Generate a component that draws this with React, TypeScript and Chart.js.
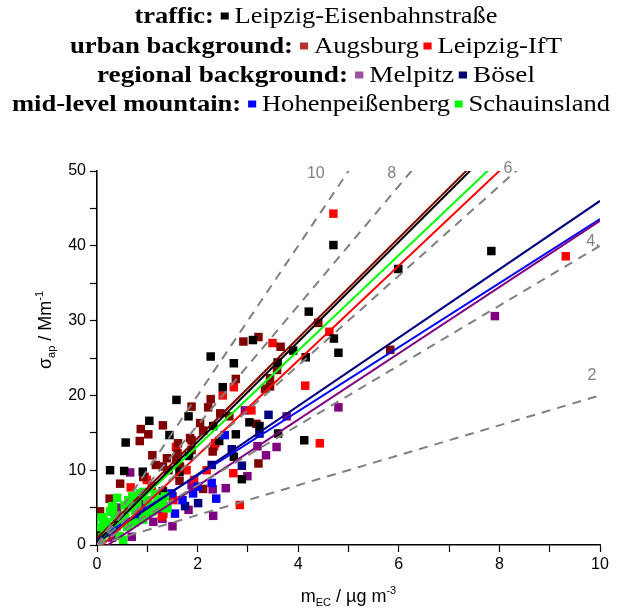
import { useEffect, useRef } from 'react';
import { Chart, registerables } from 'chart.js';

Chart.register(...registerables);

// ---------- data ----------
const SERIES_NAMES = ['Leipzig-Eisenbahnstraße', 'Augsburg', 'Leipzig-IfT', 'Melpitz', 'Bösel', 'Hohenpeißenberg', 'Schauinsland'];
const SERIES_COLORS = ['#000000', '#800000', '#ff0000', '#800080', '#000080', '#0000ff', '#00ff00'];
const LEGEND_COLORS = ['#000000', '#b03434', '#ff0000', '#a050a0', '#000070', '#0000ff', '#00ff00'];
const GROUP_LABELS = ['traffic:', 'urban background:', 'regional background:', 'mid-level mountain:'];
const GROUP_MEMBERS = [[0], [1, 2], [3, 4], [5, 6]];

const leipzigEisenbahnstrasse: [number, number][] = [
  [0.05, 1.5], [0.15, 3.0], [0.3, 4.5], [0.26, 10.0], [0.54, 9.9], [0.91, 9.8], [0.57, 13.7], [1.04, 16.6],
  [1.44, 14.7], [1.58, 19.4], [1.64, 9.8], [1.82, 17.2], [1.83, 11.9], [1.31, 7.2], [2.26, 25.2], [2.31, 15.9],
  [2.43, 13.9], [2.5, 21.1], [2.72, 24.3], [2.72, 11.8], [2.76, 14.8], [2.88, 8.8], [3.03, 16.4], [3.1, 27.4],
  [3.23, 15.9], [3.59, 24.4], [3.6, 14.9], [3.9, 26.0], [4.15, 25.1], [4.21, 31.2], [4.12, 14.0], [4.71, 27.6],
  [4.8, 25.7], [4.7, 40.1], [5.99, 36.9], [7.84, 39.3],
];
const augsburg: [number, number][] = [
  [0.06, 4.5], [0.25, 6.2], [0.46, 8.2], [0.85, 13.9], [0.87, 15.5], [1.02, 14.8], [0.92, 9.1], [1.17, 10.7],
  [1.31, 10.5], [1.31, 16.0], [1.39, 11.6], [1.42, 10.0], [1.58, 11.7], [1.61, 13.6], [1.6, 12.3], [1.64, 8.6],
  [1.65, 10.5], [1.85, 14.3], [1.88, 18.5], [1.88, 12.7], [1.88, 14.0], [2.05, 16.3], [2.11, 15.3], [2.11, 7.5],
  [2.21, 18.4], [2.26, 19.5], [2.45, 17.6], [2.63, 17.2], [2.76, 22.2], [2.91, 27.2], [3.17, 16.2], [3.21, 27.8],
  [3.21, 10.9], [3.34, 20.9], [3.44, 22.3], [3.44, 21.2], [3.58, 23.4], [3.65, 26.5], [4.4, 29.7], [5.83, 26.1],
  [1.1, 12.0], [2.3, 12.5],
];
const leipzigIfT: [number, number][] = [
  [0.2, 2.5], [0.4, 4.0], [0.5, 3.0], [0.67, 7.7], [0.76, 6.0], [0.95, 9.1], [0.99, 8.7], [1.09, 7.9],
  [1.29, 3.8], [1.32, 4.2], [1.52, 6.0], [1.57, 13.1], [1.58, 11.4], [1.78, 10.0], [1.93, 8.7], [2.18, 10.0],
  [2.33, 13.2], [2.35, 13.6], [2.5, 20.0], [2.71, 9.6], [2.72, 21.1], [2.84, 5.35], [3.07, 18.0], [3.49, 27.0],
  [4.14, 21.3], [4.43, 13.6], [4.62, 28.5], [4.7, 44.3], [9.32, 38.6],
];
const melpitz: [number, number][] = [
  [0.3, 1.0], [0.4, 5.0], [0.66, 9.7], [0.69, 1.1], [0.9, 5.5], [1.0, 4.0], [1.12, 3.1], [1.3, 3.5],
  [1.5, 2.5], [1.82, 4.7], [1.88, 8.0], [2.3, 7.45], [2.31, 3.9], [2.56, 7.6], [2.94, 18.0], [2.99, 9.2],
  [3.19, 13.2], [3.36, 12.0], [3.57, 13.1], [3.77, 17.2], [4.8, 18.4], [7.91, 30.6],
];
const boesel: [number, number][] = [
  [0.2, 2.0], [0.4, 3.5], [0.6, 2.5], [0.9, 4.0], [1.2, 5.0], [1.5, 6.5], [1.75, 5.2], [2.01, 5.6],
  [2.28, 10.7], [2.68, 12.8], [2.88, 10.6], [3.23, 14.9], [3.41, 17.4],
];
const hohenpeissenberg: [number, number][] = [
  [0.3, 2.0], [0.5, 3.0], [0.8, 3.5], [0.99, 5.1], [1.19, 4.9], [1.29, 5.8], [1.48, 6.9], [1.55, 4.2],
  [1.7, 6.0], [1.91, 6.9], [2.0, 7.8], [2.28, 8.3], [2.37, 6.2], [2.54, 14.7],
];
const schauinsland: [number, number][] = [
  [0.05, 0.5], [0.06, 2.4], [0.09, 3.7], [0.1, 1.0], [0.13, 3.3], [0.15, 1.5], [0.2, 3.0], [0.22, 2.0],
  [0.26, 4.5], [0.3, 5.2], [0.32, 4.9], [0.35, 3.8], [0.39, 2.4], [0.45, 1.2], [0.49, 3.3], [0.52, 0.7],
  [0.56, 4.0], [0.62, 6.0], [0.7, 5.0], [0.76, 4.6], [0.85, 6.9], [0.92, 3.4], [0.92, 7.1], [1.05, 5.35],
  [1.2, 5.7], [1.31, 6.0], [1.35, 6.5], [1.4, 4.9], [0.7, 6.5], [0.8, 5.5], [1.0, 6.0], [1.1, 4.5],
  [1.15, 6.8], [0.6, 2.5], [0.75, 3.0], [0.95, 4.2], [1.25, 5.0], [0.4, 6.3], [0.55, 5.3],
];
const SERIES = [leipzigEisenbahnstrasse, augsburg, leipzigIfT, melpitz, boesel, hohenpeissenberg, schauinsland];

// linear fits: y = slope * x + intercept
const FIT_SLOPES = [6.69, 6.69, 6.34, 4.43, 4.57, 4.28, 6.38];
const FIT_INTERCEPTS = [0.4, 0.9, -0.7, -0.96, 0.3, 0.76, 0.47];

// reference MAC lines (m2/g)
const MAC_VALUES = [10, 8, 6, 4, 2];
const MAC_LABELS = ['10', '8', '6', '4.', '2'];
const MAC_LABEL_X = [4.35, 5.86, 8.17, 9.86, 9.84];
const MAC_LABEL_Y = [49.7, 49.7, 50.3, 40.5, 22.7];

// ---------- drawing helpers ----------
type Part = { t: string; size: number; dy: number };

function richWidth(ctx: CanvasRenderingContext2D, parts: Part[]) {
  let w = 0;
  for (const p of parts) {
    ctx.font = `${p.size}px "Liberation Sans"`;
    w += ctx.measureText(p.t).width;
  }
  return w;
}
function drawRich(ctx: CanvasRenderingContext2D, parts: Part[], x: number, y: number) {
  let cx = x;
  for (const p of parts) {
    ctx.font = `${p.size}px "Liberation Sans"`;
    ctx.fillText(p.t, cx, y + p.dy);
    cx += ctx.measureText(p.t).width;
  }
}

const LEG_SIZE = 23;
const LEG_WIDTHS = [363, 492, 438, 598];
const LEG_CENTERS = [316, 316, 316, 311];
const LEG_BASELINES = [23, 53, 82, 111];

const textPlugin = {
  id: 'customTexts',
  afterDraw(chart: any) {
    const ctx: CanvasRenderingContext2D = chart.ctx;
    const xs = chart.scales.x;
    const ys = chart.scales.y;
    ctx.save();
    // legend block
    const boldFont = `bold ${LEG_SIZE}px "Liberation Serif"`;
    const normFont = `${LEG_SIZE}px "Liberation Serif"`;
    const SQ = 7, GAP_LABEL = 6, GAP_BETWEEN = 4, GAP_SQ = 5;
    ctx.textAlign = 'left';
    ctx.textBaseline = 'alphabetic';
    GROUP_LABELS.forEach((label, li) => {
      ctx.font = boldFont;
      const wl = ctx.measureText(label).width;
      ctx.font = normFont;
      let w = wl;
      GROUP_MEMBERS[li].forEach((si, j) => {
        w += (j === 0 ? GAP_LABEL : GAP_BETWEEN) + SQ + GAP_SQ + ctx.measureText(SERIES_NAMES[si]).width;
      });
      const tw = LEG_WIDTHS[li];
      ctx.save();
      ctx.translate(LEG_CENTERS[li] - tw / 2, LEG_BASELINES[li]);
      ctx.scale(tw / w, 1);
      ctx.fillStyle = '#000';
      ctx.font = boldFont;
      ctx.fillText(label, 0, 0);
      let x = wl;
      ctx.font = normFont;
      GROUP_MEMBERS[li].forEach((si, j) => {
        x += j === 0 ? GAP_LABEL : GAP_BETWEEN;
        ctx.fillStyle = LEGEND_COLORS[si];
        ctx.fillRect(x, -7 - SQ / 2, SQ, SQ);
        x += SQ + GAP_SQ;
        ctx.fillStyle = '#000';
        ctx.fillText(SERIES_NAMES[si], x, 0);
        x += ctx.measureText(SERIES_NAMES[si]).width;
      });
      ctx.restore();
    });

    // MAC labels
    ctx.fillStyle = '#808080';
    ctx.font = '16px "Liberation Sans"';
    ctx.textAlign = 'center';
    ctx.textBaseline = 'middle';
    MAC_LABELS.forEach((t, i) => {
      ctx.fillText(t, xs.getPixelForValue(MAC_LABEL_X[i]), ys.getPixelForValue(MAC_LABEL_Y[i]));
    });

    // axis titles
    ctx.fillStyle = '#000';
    ctx.textAlign = 'left';
    ctx.textBaseline = 'alphabetic';
    const xParts: Part[] = [
      { t: 'm', size: 18, dy: 0 },
      { t: 'EC', size: 11, dy: 4 },
      { t: ' / µg m', size: 18, dy: 0 },
      { t: '-3', size: 11, dy: -8 },
    ];
    const xw = richWidth(ctx, xParts);
    const xc = (chart.chartArea.left + chart.chartArea.right) / 2;
    drawRich(ctx, xParts, xc - xw / 2, 602);

    const yParts: Part[] = [
      { t: 'σ', size: 18, dy: 0 },
      { t: 'ap', size: 11, dy: 4 },
      { t: ' / Mm', size: 18, dy: 0 },
      { t: '-1', size: 11, dy: -8 },
    ];
    const yw = richWidth(ctx, yParts);
    ctx.translate(51, 330);
    ctx.rotate(-Math.PI / 2);
    drawRich(ctx, yParts, -yw / 2, 0);
    ctx.restore();
  },
};

const SCATTER_ORDER = [16, 17, 18, 20, 19, 15, 14];

export default function App() {
  const ref = useRef<HTMLCanvasElement>(null);
  useEffect(() => {
    const canvas = ref.current!;
    const datasets: any[] = [];
    MAC_VALUES.forEach((k) => {
      datasets.push({
        type: 'line',
        data: [{ x: 0, y: 0 }, { x: 10, y: 10 * k }],
        borderColor: '#808080',
        borderWidth: 2,
        borderDash: [9, 7],
        pointRadius: 0,
        fill: false,
        order: 0,
      });
    });
    SERIES.forEach((_, i) => {
      datasets.push({
        type: 'line',
        data: [
          { x: 0, y: FIT_INTERCEPTS[i] },
          { x: 10, y: 10 * FIT_SLOPES[i] + FIT_INTERCEPTS[i] },
        ],
        borderColor: SERIES_COLORS[i],
        borderWidth: 2,
        pointRadius: 0,
        fill: false,
        order: 1 + i * 0.1,
      });
    });
    SERIES.forEach((pts, i) => {
      datasets.push({
        type: 'scatter',
        label: SERIES_NAMES[i],
        data: pts.map(([x, y]) => ({ x, y })),
        backgroundColor: SERIES_COLORS[i],
        borderColor: SERIES_COLORS[i],
        borderWidth: 0,
        pointStyle: 'rect',
        pointRadius: 6,
        order: SCATTER_ORDER[i],
      });
    });

    const axisCommon = {
      type: 'linear' as const,
      grid: {
        drawOnChartArea: false,
        drawTicks: true,
        tickLength: 7,
        tickColor: '#000',
        tickWidth: 1.2,
      },
      border: { display: true, color: '#000', width: 1.6 },
    };

    const chart = new Chart(canvas, {
      type: 'scatter',
      data: { datasets },
      options: {
        animation: false,
        responsive: false,
        devicePixelRatio: 1,
        layout: { padding: { left: 0, top: 171, right: 22, bottom: 0 } },
        plugins: { legend: { display: false }, tooltip: { enabled: false } },
        scales: {
          x: {
            ...axisCommon,
            min: 0,
            max: 10,
            afterFit: (s: any) => { s.height = 65; },
            ticks: {
              stepSize: 1,
              autoSkip: false,
              maxRotation: 0,
              padding: 3,
              color: '#000',
              font: { family: 'Liberation Sans', size: 16 },
              callback: (v: any) => (Number(v) % 2 === 0 ? String(v) : ''),
            },
          },
          y: {
            ...axisCommon,
            min: 0,
            max: 50,
            afterFit: (s: any) => { s.width = 97; },
            ticks: {
              stepSize: 5,
              autoSkip: false,
              padding: 4,
              color: '#000',
              font: { family: 'Liberation Sans', size: 16 },
              callback: (v: any) => (Number(v) % 10 === 0 ? String(v) : ''),
            },
          },
        },
      } as any,
      plugins: [textPlugin],
    });
    return () => chart.destroy();
  }, []);

  return (
    <canvas
      ref={ref}
      width={622}
      height={610}
      style={{ position: 'fixed', left: 0, top: 0, display: 'block', width: 622, height: 610 }}
    />
  );
}
